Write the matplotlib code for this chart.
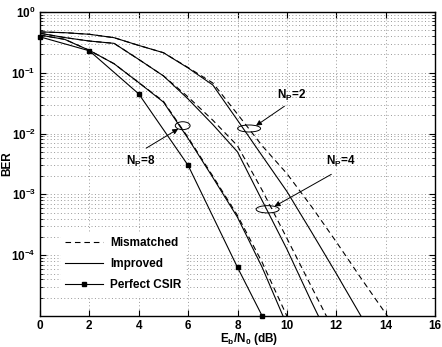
import numpy as np
import matplotlib
matplotlib.use("Agg")
import matplotlib.pyplot as plt
from matplotlib.patches import Ellipse
from matplotlib.lines import Line2D
from matplotlib.ticker import LogLocator, FixedLocator, NullFormatter

plt.rcParams['font.family'] = ['Liberation Sans', 'DejaVu Sans']
plt.rcParams['font.weight'] = 'bold'
plt.rcParams['mathtext.fontset'] = 'custom'
plt.rcParams['mathtext.rm'] = 'Liberation Sans:bold'
plt.rcParams['mathtext.it'] = 'Liberation Sans:bold'
plt.rcParams['mathtext.bf'] = 'Liberation Sans:bold'
plt.rcParams['mathtext.sf'] = 'Liberation Sans:bold'
plt.rcParams['mathtext.default'] = 'rm'

# ---------------- data ----------------
snr_np2_imp = [0, 1, 2, 3, 4, 5, 6, 7, 8, 9, 10, 11, 12, 13, 14]
ber_np2_imp = [0.47, 0.457, 0.43, 0.378, 0.282, 0.214, 0.12, 0.063, 0.0166,
               4.3e-3, 1.12e-3, 2.4e-4, 5.0e-5, 1.0e-5, 2.0e-6]
snr_np2_mis = [0, 1, 2, 3, 4, 5, 6, 7, 8, 9, 10, 11, 12, 13, 14, 15]
ber_np2_mis = [0.47, 0.457, 0.43, 0.378, 0.282, 0.214, 0.122, 0.068, 0.0209,
               6.3e-3, 2.2e-3, 6.3e-4, 1.66e-4, 4.2e-5, 1.1e-5, 3.0e-6]

snr_np4_imp = [0, 1, 2, 3, 4, 5, 6, 7, 8, 9, 10, 11, 12]
ber_np4_imp = [0.447, 0.38, 0.333, 0.305, 0.166, 0.089, 0.037, 0.0141, 5.0e-3,
               7.9e-4, 1.26e-4, 1.7e-5, 2.5e-6]
snr_np4_mis = [0, 1, 2, 3, 4, 5, 6, 7, 8, 9, 10, 11, 12]
ber_np4_mis = [0.447, 0.38, 0.333, 0.305, 0.166, 0.089, 0.040, 0.0166, 6.3e-3,
               1.17e-3, 1.9e-4, 3.0e-5, 4.8e-6]

snr_np8_imp = [0, 1, 2, 3, 4, 5, 6, 7, 8, 9, 10]
ber_np8_imp = [0.417, 0.355, 0.234, 0.141, 0.069, 0.033, 8.3e-3, 1.9e-3,
               4.2e-4, 6.3e-5, 7.1e-6]
snr_np8_mis = [0, 1, 2, 3, 4, 5, 6, 7, 8, 9, 10]
ber_np8_mis = [0.417, 0.355, 0.234, 0.141, 0.069, 0.034, 8.6e-3, 2.0e-3,
               4.5e-4, 7.6e-5, 1.0e-5]

snr_perfect = [0, 2, 4, 6, 8, 9]
ber_perfect = [0.39, 0.23, 0.045, 3.0e-3, 6.3e-5, 1.0e-5]

x_ticks = [0, 2, 4, 6, 8, 10, 12, 14, 16]
y_ticks = [1e-4, 1e-3, 1e-2, 1e-1, 1e0]
legend_labels = ['Mismatched', 'Improved', 'Perfect CSIR']
# annotations: label, text position, ellipse centre, ellipse size (dB, decades), arrow start
annots = [
    (r'N$_{\mathrm{P}}$=2', (10.2, 10**-1.37), (8.47, 10**-1.916), (0.93, 0.115), (9.9, 10**-1.55)),
    (r'N$_{\mathrm{P}}$=4', (12.2, 10**-2.45), (9.22, 10**-3.245), (0.93, 0.12), (11.8, 10**-2.67)),
    (r'N$_{\mathrm{P}}$=8', (4.1, 10**-2.45), (5.78, 10**-1.87), (0.6, 0.13), (4.3, 10**-2.24)),
]

# ---------------- figure ----------------
fig = plt.figure(figsize=(4.42, 3.47), dpi=100)
ax = fig.add_axes([40/442, 1-316/347, 395/442, 304/347])

lw = 0.8
dash = (5, 3.5)
ax.semilogy(snr_np2_mis, ber_np2_mis, color='k', lw=lw, dashes=dash)
ax.semilogy(snr_np4_mis, ber_np4_mis, color='k', lw=lw, dashes=dash)
ax.semilogy(snr_np8_mis, ber_np8_mis, color='k', lw=lw, dashes=dash)
ax.semilogy(snr_np2_imp, ber_np2_imp, color='k', lw=lw)
ax.semilogy(snr_np4_imp, ber_np4_imp, color='k', lw=lw)
ax.semilogy(snr_np8_imp, ber_np8_imp, color='k', lw=lw)
ax.semilogy(snr_perfect, ber_perfect, color='k', lw=lw, marker='s',
            markersize=3.5, markerfacecolor='k', clip_on=False, zorder=6)

ax.set_xlim(0, 16)
ax.set_ylim(1e-5, 1)
ax.xaxis.set_major_locator(FixedLocator(x_ticks))
ax.yaxis.set_major_locator(FixedLocator(y_ticks))
ax.yaxis.set_minor_locator(LogLocator(base=10, subs=np.arange(2, 10), numticks=10))
ax.yaxis.set_minor_formatter(NullFormatter())
ax.tick_params(which='both', direction='in', top=True, right=True, labelsize=8.5)
ax.tick_params(which='major', length=4, width=0.8, pad=3)
ax.tick_params(which='minor', length=2, width=0.6)
ax.grid(True, which='major', axis='both', color='#999999', lw=0.7, dashes=(1, 2.5))
ax.grid(True, which='minor', axis='y', color='#999999', lw=0.7, dashes=(1, 2.5))
for s in ax.spines.values():
    s.set_linewidth(1.0)
for lab in ax.get_xticklabels() + ax.get_yticklabels():
    lab.set_fontweight('bold')

ax.set_xlabel(r'E$_{\mathrm{b}}$/N$_{\mathrm{0}}$ (dB)', fontsize=8.5, fontweight='bold')
ax.xaxis.set_label_coords(0.53, -0.049)
ax.xaxis.label.set_va('top')
ax.set_ylabel('BER', fontsize=8.5, fontweight='bold')
ax.yaxis.set_label_coords(-0.083, 0.5)
ax.yaxis.label.set_va('center')

# legend
handles = [Line2D([], [], color='k', lw=lw, dashes=dash),
           Line2D([], [], color='k', lw=lw),
           Line2D([], [], color='k', lw=lw, marker='s', markersize=3.5)]
leg = ax.legend(handles, legend_labels, loc='center left',
                bbox_to_anchor=(0.052, 0.171), borderaxespad=0, borderpad=0.4,
                handlelength=3.2, handletextpad=0.6, labelspacing=0.75,
                fontsize=8.5, frameon=True, fancybox=False)
leg.get_frame().set_edgecolor('none')
leg.get_frame().set_facecolor('white')
leg.get_frame().set_alpha(1)
for t in leg.get_texts():
    t.set_fontweight('bold')

# annotations with ellipses and arrows
for label, tpos, cen, size, astart in annots:
    cx = cen[0] / 16
    cy = (np.log10(cen[1]) + 5) / 5
    w = size[0] / 16
    h = size[1] / 5
    ax.add_patch(Ellipse((cx, cy), w, h, transform=ax.transAxes, fill=False,
                         lw=0.7, color='k', zorder=5))
    ax.text(tpos[0], tpos[1], label, fontsize=8.5, fontweight='bold',
            ha='center', va='center')
    sx = astart[0] / 16
    sy = (np.log10(astart[1]) + 5) / 5
    tipx = cx + (0.5 * w if sx > cx else -0.5 * w) * 0.6
    tipy = cy + (0.5 * h if sy > cy else -0.5 * h) * 0.8
    ax.annotate('', xy=(tipx, tipy), xytext=(sx, sy),
                xycoords='axes fraction', textcoords='axes fraction',
                arrowprops=dict(arrowstyle='-|>', color='k', lw=0.7,
                                mutation_scale=8, shrinkA=0, shrinkB=0))

fig.savefig('out.png', dpi=100)
